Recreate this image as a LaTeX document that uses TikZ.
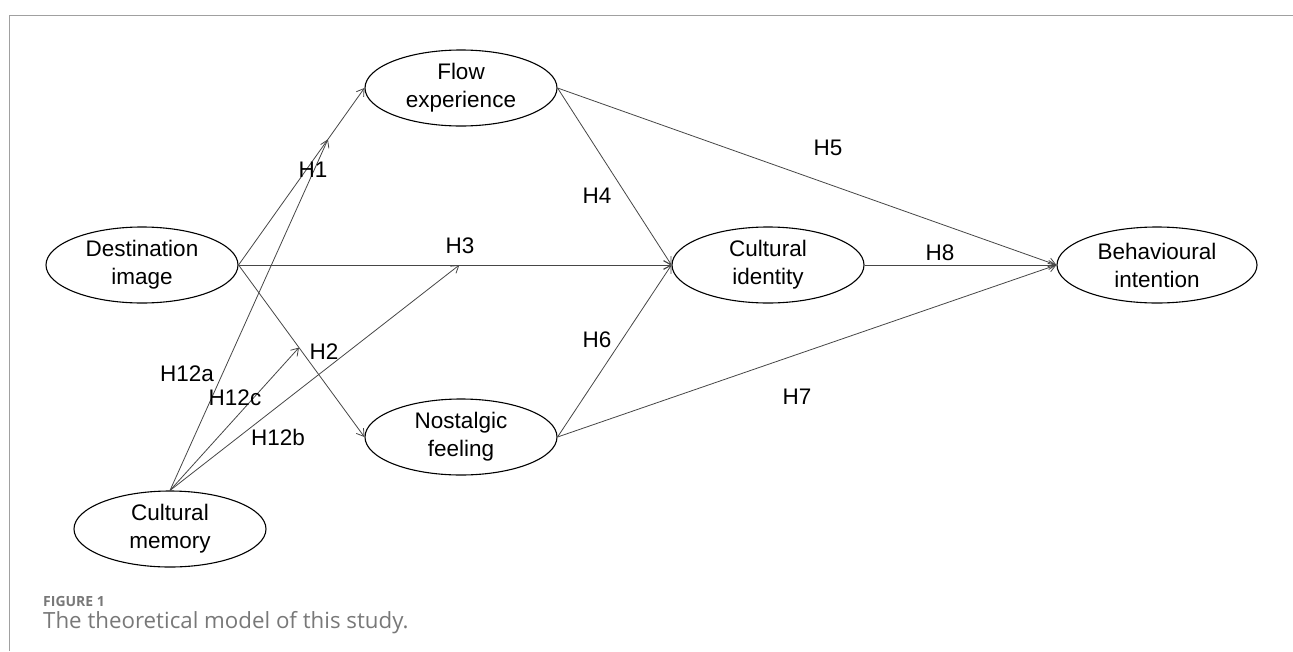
\documentclass[tikz,border=0pt]{standalone}
\usepackage{fontspec}
\setmainfont{Liberation Sans}
\newfontfamily\capfont{Open Sans}
\usetikzlibrary{positioning,arrows.meta,shapes.geometric}
\definecolor{frameg}{RGB}{160,160,160}
\definecolor{lineg}{RGB}{70,70,70}
\definecolor{capg}{RGB}{120,120,120}

\begin{document}
\begin{tikzpicture}[x=1pt,y=-1pt,
            var/.style={ellipse,draw=black,line width=1.1pt,minimum width=192pt,
                        minimum height=76pt,inner sep=0pt,align=center,
                        font=\fontsize{22.5}{28}\selectfont},
            arr/.style={-{Straight Barb[length=7pt,width=9pt]},lineg,line width=0.8pt},
            lab/.style={font=\fontsize{22.5}{27}\selectfont}]
            \useasboundingbox (0,0) rectangle (1293,651);
            \draw[frameg,thick] (9,651) -- (9,15) -- (1293,15);
            % latent variables
            \node[var] (di) at (142,265) {Destination\\image};
            \node[var] (fe) at (461,88)  {Flow\\experience};
            \node[var] (nf) at (461,437) {Nostalgic\\feeling};
            \node[var] (cm) at (170,529) {Cultural\\memory};
            \node[var] (ci) at (768,265) {Cultural\\identity};
            \node[var,minimum width=200pt] (bi) at (1157,265) {Behavioural\\intention};
            % paths
            \draw[arr] (di.east) -- coordinate[pos=0.71] (m1) (fe.west);
            \draw[arr] (di.east) -- coordinate[pos=0.48] (m2) (nf.west);
            \draw[arr] (di.east) -- coordinate[pos=0.51] (m3) (ci.west);
            \draw[arr] (fe.east) -- (ci.west);
            \draw[arr] (nf.east) -- (ci.west);
            \draw[arr] (fe.east) -- (bi.west);
            \draw[arr] (ci.east) -- (bi.west);
            \draw[arr] (nf.east) -- (bi.west);
            % moderation
            \draw[arr] (cm.north) -- (m1);
            \draw[arr] (cm.north) -- (m2);
            \draw[arr] (cm.north) -- (m3);
            % labels
            \node[lab] (h1) at (313,170) {H1};
            \node[lab] (h2) at (324,352) {H2};
            \node[lab] (h3) at (460,246) {H3};
            \node[lab] (h4) at (597,196) {H4};
            \node[lab] (h5) at (828,148) {H5};
            \node[lab] (h6) at (597,340) {H6};
            \node[lab] (h7) at (797,397) {H7};
            \node[lab] (h8) at (940,253) {H8};
            \node[lab] (h12a) at (187,374) {H12a};
            \node[lab] (h12c) at (235,398) {H12c};
            \node[lab] (h12b) at (278,437) {H12b};
            % caption
            \node[anchor=west,text=capg,inner sep=0pt,
                  font=\capfont\bfseries\fontsize{14}{16}\selectfont] (fig) at (43,601) {FIGURE 1};
            \node[anchor=west,text=capg,inner sep=0pt,
                  font=\capfont\fontsize{22.3}{26}\selectfont] (cap) at (43,623) {The theoretical model of this study.};
        \end{tikzpicture}
\end{document}
